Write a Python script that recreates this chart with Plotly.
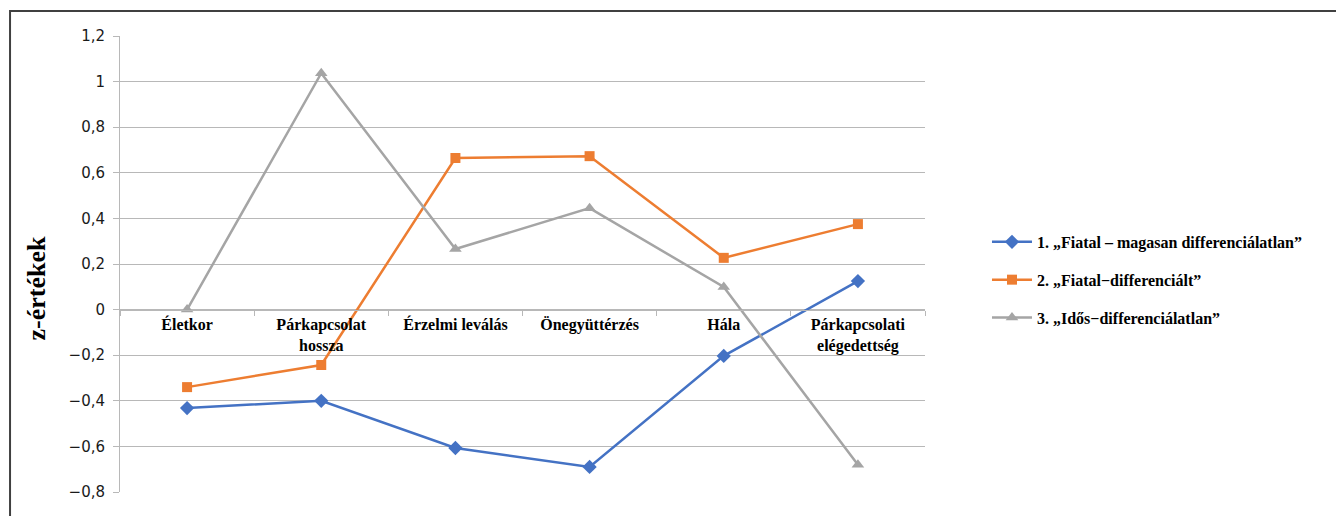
import plotly.graph_objects as go

# Categories (x axis) and z-scores of the three clusters
categories = [
    "Életkor",
    "Párkapcsolat<br>hossza",
    "Érzelmi leválás",
    "Önegyüttérzés",
    "Hála",
    "Párkapcsolati<br>elégedettség",
]
series_names = [
    "1. „Fiatal – magasan differenciálatlan”",
    "2. „Fiatal−differenciált”",
    "3. „Idős−differenciálatlan”",
]
fiatal_magasan = [-0.432, -0.40, -0.607, -0.69, -0.203, 0.125]
fiatal_diff = [-0.34, -0.243, 0.665, 0.673, 0.227, 0.375]
idos_differenciatlan = [0.0, 1.037, 0.266, 0.445, 0.099, -0.68]

y_tick_vals = [-0.8, -0.6, -0.4, -0.2, 0, 0.2, 0.4, 0.6, 0.8, 1.0, 1.2]
y_tick_text = ["−0,8", "−0,6", "−0,4", "−0,2", "0", "0,2", "0,4", "0,6", "0,8", "1", "1,2"]

serif_bold = "Liberation Serif, Times New Roman, serif"
grid_col = "#B8B8B8"

fig = go.Figure()

styles = [
    ("#4472C4", "diamond", 11),
    ("#ED7D31", "square", 10),
    ("#A5A5A5", "triangle-up", 11),
]
for i, (name, vals) in enumerate(zip(series_names, [fiatal_magasan, fiatal_diff, idos_differenciatlan])):
    color, symbol, size = styles[i]
    fig.add_trace(go.Scatter(
        x=categories, y=vals, name=name, mode="lines+markers",
        line=dict(color=color, width=2.5),
        marker=dict(color=color, symbol=symbol, size=size),
        legendgroup=f"g{i}",
    ))

fig.update_layout(
    width=1336, height=516,
    margin=dict(l=120, r=411, t=36, b=24),
    paper_bgcolor="white", plot_bgcolor="white",
    showlegend=True,
    legend=dict(
        x=1.077, xanchor="left", y=0.465, yanchor="middle",
        font=dict(family=serif_bold, size=16, color="black", weight="bold"),
        tracegroupgap=14, traceorder="grouped", itemwidth=40,
        bgcolor="rgba(0,0,0,0)",
    ),
    xaxis=dict(
        type="category", anchor="free", position=0.4,
        showgrid=False, zeroline=False,
        showline=True, linecolor=grid_col, linewidth=1,
        ticks="outside", tickson="boundaries", ticklen=5, tickcolor=grid_col,
        tickfont=dict(family=serif_bold, size=16, color="black", weight="bold"),
        range=[-0.5, 5.5],
    ),
    yaxis=dict(
        range=[-0.8, 1.2], tickvals=y_tick_vals, ticktext=y_tick_text,
        showgrid=True, gridcolor=grid_col, gridwidth=1, zeroline=False,
        showline=True, linecolor=grid_col, linewidth=1,
        ticks="outside", ticklen=6, tickcolor=grid_col,
        tickfont=dict(family="DejaVu Sans", size=15, color="#1a1a1a"),
        ticklabelstandoff=5,
    ),
    annotations=[dict(
        text="z-értékek", textangle=-90, showarrow=False,
        xref="paper", yref="paper", x=-0.104, y=0.447,
        xanchor="center", yanchor="middle",
        font=dict(family=serif_bold, size=26, color="black", weight="bold"),
    )],
    shapes=[dict(
        type="rect", xref="paper", yref="paper",
        x0=-0.1366, x1=1.52, y0=-0.07, y1=1.0548,
        line=dict(color="#404040", width=2), fillcolor="rgba(0,0,0,0)",
        layer="below",
    )],
)

fig.write_html("out.html")
